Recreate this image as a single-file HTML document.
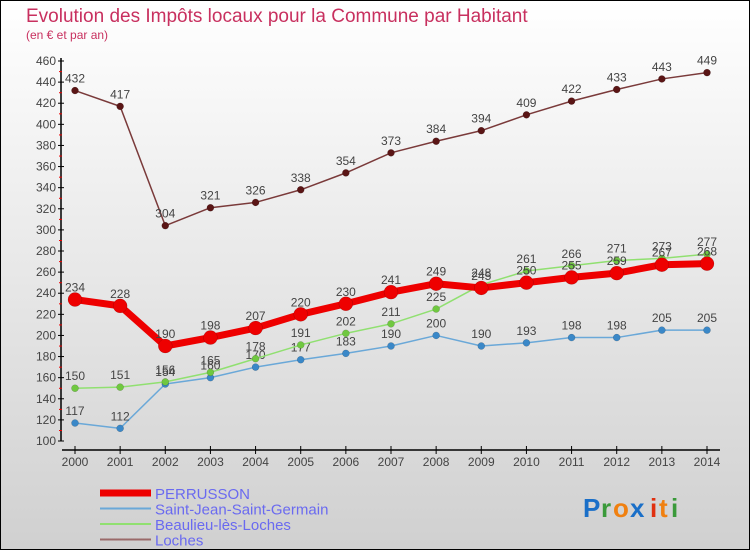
<!DOCTYPE html>
<html><head><meta charset="utf-8"><style>
html,body{margin:0;padding:0}
body{width:750px;height:550px;overflow:hidden;font-family:"Liberation Sans",sans-serif}
#wrap{position:absolute;left:0;top:0;width:748px;height:548px;border:1px solid #000;background:linear-gradient(#ffffff,#d0d0d0)}
</style></head><body>
<div id="wrap">
<svg id="chart" width="750" height="550" style="position:absolute;left:-1px;top:-1px">
<text x="26" y="22" font-size="19" fill="#c8305f">Evolution des Impôts locaux pour la Commune par Habitant</text>
<text x="26" y="39" font-size="12" fill="#c8305f">(en € et par an)</text>
<g id="axes"></g><g id="series"></g><g id="legend"></g>
<g font-size="26" font-weight="bold">
<text x="583" y="517" fill="#1a6fc8">P</text><text x="601" y="517" fill="#3a9a3a">r</text><text x="613" y="517" fill="#f08010">o</text><text x="630" y="517" fill="#1a6fc8">x</text><text x="650" y="517" fill="#e03010">i</text><text x="659" y="517" fill="#f08010">t</text><text x="671" y="517" fill="#3a9a3a">i</text>
</g>
</svg>
</div>
<script>
const years = ["2000","2001","2002","2003","2004","2005","2006","2007","2008","2009","2010","2011","2012","2013","2014"];
const perrusson = [234,228,190,198,207,220,230,241,249,245,250,255,259,267,268];
const saintJean = [117,112,154,160,170,177,183,190,200,190,193,198,198,205,205];
const beaulieu = [150,151,156,165,178,191,202,211,225,248,261,266,271,273,277];
const loches = [432,417,304,321,326,338,354,373,384,394,409,422,433,443,449];
const yTicks = [100,120,140,160,180,200,220,240,260,280,300,320,340,360,380,400,420,440,460];
const seriesNames = ["PERRUSSON","Saint-Jean-Saint-Germain","Beaulieu-lès-Loches","Loches"];

const NS="http://www.w3.org/2000/svg";
function xS(i){return 75+i*(707-75)/(years.length-1);}
function yS(v){return 441-(v-100)*(441-61)/360;}
function mk(tag,attrs,parent){const e=document.createElementNS(NS,tag);for(const k in attrs)e.setAttribute(k,attrs[k]);parent.appendChild(e);return e;}
const axes=document.getElementById('axes'), ser=document.getElementById('series'), leg=document.getElementById('legend');

let yl=mk('line',{x1:61,y1:58,x2:61,y2:441,stroke:'#000','stroke-width':1.5},axes);


yTicks.forEach((t,i)=>{
  const y=yS(t);
  mk('line',{x1:58,y1:y,x2:64,y2:y,stroke:'#000'},axes);
  const tx=mk('text',{x:56,y:y+4,'font-size':12,fill:'#444','text-anchor':'end'},axes);
  tx.textContent=t;
  
  
  if(i<yTicks.length-1) mk('line',{x1:59,y1:y-10.5,x2:62,y2:y-10.5,stroke:'#e00'},axes);
});
let xl=mk('line',{x1:62,y1:450,x2:720,y2:450,stroke:'#000','stroke-width':1.5},axes);


years.forEach((yr,i)=>{
  const x=xS(i);
  mk('line',{x1:x,y1:446,x2:x,y2:454,stroke:'#000'},axes);
  const tx=mk('text',{x:x,y:466,'font-size':12,fill:'#444','text-anchor':'middle'},axes);
  tx.textContent=yr;
  
  
});

const defs=[
  {d:loches,line:'#7a3a3a',w:1.5,dot:'#5a1515',r:3.5,name:'series-loches'},
  {d:saintJean,line:'#6aa8d8',w:1.5,dot:'#3a88c8',r:3.5,name:'series-saint-jean'},
  {d:beaulieu,line:'#90e070',w:1.5,dot:'#70c840',r:3.5,name:'series-beaulieu'},
  {d:perrusson,line:'#ee0000',w:7,dot:'#ee0000',r:7,name:'series-perrusson'}
];
defs.forEach(s=>{
  const g=mk('g',{},ser);
  
  
  mk('polyline',{points:s.d.map((v,i)=>xS(i)+','+yS(v)).join(' '),fill:'none',stroke:s.line,'stroke-width':s.w,'stroke-linejoin':'round'},g);
  s.d.forEach((v,i)=>{
    const c=mk('circle',{cx:xS(i),cy:yS(v),r:s.r,fill:s.dot,stroke:'rgba(0,0,0,0.25)','stroke-width':0.5},g);
    
    
    const t=mk('text',{x:xS(i),y:yS(v)-8,'font-size':12,fill:'#444','text-anchor':'middle'},g);
    t.textContent=v;
    
    
  });
});

const legCols=['#ee0000','#6aa8d8','#90e070','#9a6a6a'];
const legW=[7,2,2,2];
seriesNames.forEach((n,i)=>{
  const y=493+i*15.5;
  const g=mk('g',{},leg);
  
  
  mk('line',{x1:100,y1:y,x2:151,y2:y,stroke:legCols[i],'stroke-width':legW[i]},g);
  const t=mk('text',{x:155,y:y+6,'font-size':15,fill:'#6a6af0'},g);
  t.textContent=n;
});
</script>
</body></html>
